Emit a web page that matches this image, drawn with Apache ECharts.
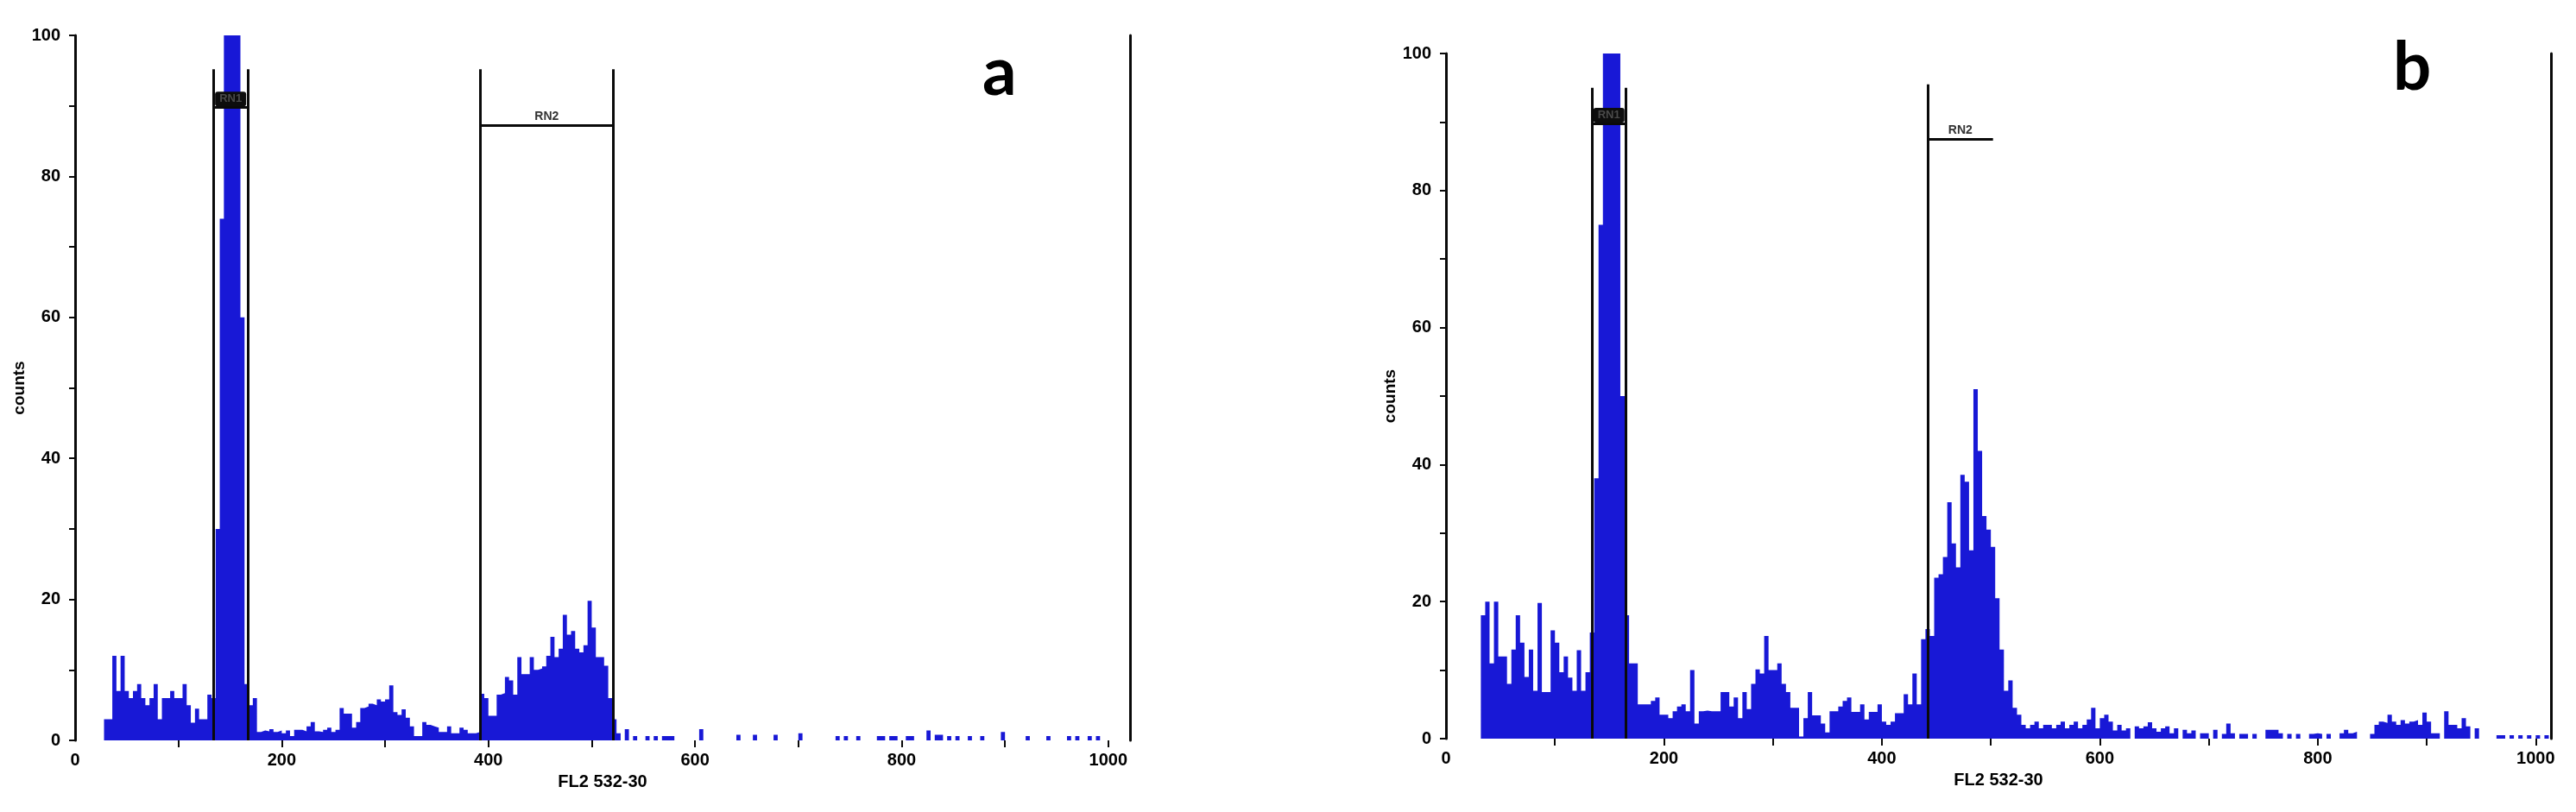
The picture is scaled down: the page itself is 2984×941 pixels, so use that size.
<!DOCTYPE html>
<html><head><meta charset="utf-8">
<script src="https://cdn.jsdelivr.net/npm/echarts@6/dist/echarts.min.js"></script>
<style>html,body{margin:0;padding:0;background:#fff}#c{width:2984px;height:941px}</style>
</head><body><div id="c"></div>
<script>
// ---- data ----
const firstChannel = 28;   // first histogram bin (FL2 channel)
const binWidth = 4;        // channels per bin
const countsA = [
  3, 3, 12, 7, 12, 7, 6, 7, 8, 6,
  5, 6, 8, 3, 6, 6, 7, 6, 6, 8,
  5, 2.5, 4.5, 3, 3, 6.5, 6, 30, 74, 100,
  100, 100, 100, 60, 8, 5, 6, 1.2, 1.4, 1.3,
  1.6, 1.2, 1.4, 1, 1.4, 0.6, 1.5, 1.5, 1.3, 2,
  2.6, 1.3, 1.2, 1.5, 1.8, 1.2, 1.5, 4.6, 3.8, 3.8,
  1.8, 2.6, 4.6, 4.8, 5.2, 5, 5.8, 5.5, 5.8, 7.8,
  4, 3.6, 4.4, 3.2, 2, 0.6, 0.6, 2.6, 2.2, 2,
  1.8, 1.2, 1.2, 2, 1, 1, 1.8, 1.5, 1, 1,
  1.2, 6.6, 6, 3.5, 3.5, 6.5, 6.7, 9, 8.5, 6.5,
  11.8, 9.4, 9.4, 11.8, 10, 10.2, 10.5, 12, 14.7, 11.8,
  13, 17.8, 15, 15.5, 13, 12.5, 13.5, 19.8, 16, 11.8,
  11.8, 10.6, 6, 3, 1, 0, 1.6, 0, 0.6, 0,
  0, 0.6, 0, 0.6, 0, 0.6, 0.6, 0.6, 0, 0,
  0, 0, 0, 0, 1.6, 0, 0, 0, 0, 0,
  0, 0, 0, 0.8, 0, 0, 0, 0.8, 0, 0,
  0, 0, 0.8, 0, 0, 0, 0, 0, 1, 0,
  0, 0, 0, 0, 0, 0, 0, 0.6, 0, 0.6,
  0, 0, 0.6, 0, 0, 0, 0, 0.6, 0.6, 0,
  0.6, 0.6, 0, 0, 0.6, 0.6, 0, 0, 0, 1.4,
  0, 0.8, 0.8, 0, 0.6, 0, 0.6, 0, 0, 0.6,
  0, 0, 0.6, 0, 0, 0, 0, 1.2, 0, 0,
  0, 0, 0, 0.6, 0, 0, 0, 0, 0.6, 0,
  0, 0, 0, 0.6, 0, 0.6, 0, 0, 0.6, 0,
  0.6, 0, 0, 0, 0, 0, 0, 0
];
const countsB = [
  0, 18, 20, 11, 20, 12, 12, 8, 13, 18,
  14, 9, 13, 7, 19.8, 6.8, 6.8, 15.8, 14, 9.7,
  12, 8.9, 7, 12.9, 7, 9.7, 15.5, 38, 75, 100,
  100, 100, 100, 50, 18, 11, 11, 5, 5, 5,
  5.5, 6, 3.5, 3.5, 3, 4, 4.7, 5, 4, 10,
  2.2, 4, 4.1, 4, 4, 4, 6.8, 6.8, 4.7, 6,
  3, 6.8, 4.3, 8, 10.1, 9.5, 15, 10, 10, 11,
  8, 6.8, 4.5, 4.5, 0.3, 3, 6.8, 3.4, 3.4, 2.2,
  0.9, 4, 4, 4.7, 5.5, 6, 3.9, 3.9, 5, 2.8,
  3.9, 3.9, 5, 2.5, 2, 2.5, 3.7, 3.7, 6.5, 5,
  9.5, 5, 14.5, 16, 15, 23.5, 24, 26.5, 34.5, 28.5,
  25, 38.5, 37.5, 27.5, 51, 42, 32.5, 30.5, 28, 20.5,
  13, 7, 8.5, 4.5, 3.5, 2, 1.5, 2, 2.5, 1.5,
  2, 2, 1.5, 2, 2.5, 1.5, 2, 2.5, 1.5, 2,
  2.8, 4.5, 1.5, 3, 3.5, 2.5, 1.2, 2, 1.2, 1.5,
  0, 1.8, 1.5, 1.8, 2.4, 1.5, 1, 1.5, 1.8, 0.8,
  1.5, 0, 1.3, 0.8, 1.2, 0, 0.8, 0.8, 0, 1.3,
  0, 0.7, 2.2, 0.8, 0, 0.7, 0.7, 0, 0.7, 0,
  0, 1.3, 1.3, 1.3, 0.8, 0, 0.7, 0, 0.7, 0,
  0, 0.7, 0.8, 0.7, 0, 0.7, 0, 0, 0.8, 1.3,
  0.8, 1, 0, 0, 0, 0.7, 2, 2.5, 2.3, 3.5,
  2.5, 2, 2.7, 2.2, 2.5, 2.7, 2, 3.8, 2.5, 0.8,
  0.8, 0, 4, 2, 2, 1.5, 3, 1.8, 0, 1.5,
  0, 0, 0, 0, 0.5, 0.5, 0, 0.5, 0, 0.5,
  0, 0.5, 0, 0.5, 0, 0.5, 0, 0
];
const xTickValues = [100, 200, 300, 400, 500, 600, 700, 800, 900, 1000];
const xLabelValues = [0, 200, 400, 600, 800, 1000];
const yLabelValues = [0, 20, 40, 60, 80, 100];
// marker gates: channel range, line top (counts), bar level (counts)
const gatesA = [
  { name: 'RN1', from: 134, to: 167, top: 95.2, bar: 89.8, rightLine: true },
  { name: 'RN2', from: 392, to: 521, top: 95.2, bar: 87.3, rightLine: true }
];
const gatesB = [
  { name: 'RN1', from: 134, to: 165, top: 95.0, bar: 89.8, rightLine: true },
  { name: 'RN2', from: 442, to: 502, top: 95.5, bar: 87.5, rightLine: false }
];
const panelLabels = ['a', 'b'];
const xName = 'FL2 532-30';
const yName = 'counts';

// ---- chart ----
const chart = echarts.init(document.getElementById('c'), null, { renderer: 'canvas' });
const FONT = 'Liberation Sans, Arial, sans-serif';
const BLUE = '#1818d6';
const INK = '#0a0a0a';

function histData(counts) {
  const d = counts.map((v, i) => [firstChannel + i * binWidth, v]);
  d.push([firstChannel + counts.length * binWidth, 0]);
  return d;
}
function gateLines(gates) {
  const out = [];
  gates.forEach(g => {
    out.push([{ coord: [g.from, 0] }, { coord: [g.from, g.top] }]);
    if (g.rightLine) out.push([{ coord: [g.to, 0] }, { coord: [g.to, g.top] }]);
    const isBlob = g.name === 'RN1';
    const lbl = isBlob
      ? { show: true, formatter: g.name, position: 'insideMiddleTop', distance: 1,
          fontSize: 13, fontWeight: 'bold', fontFamily: FONT, color: '#4a4a4a',
          backgroundColor: '#0d0d0d', padding: [2, 5], borderRadius: 3 }
      : { show: true, formatter: g.name, position: 'insideMiddleTop', distance: 3,
          fontSize: 14, fontWeight: 'bold', fontFamily: FONT, color: '#333' };
    out.push([{ coord: [g.from, g.bar], label: lbl }, { coord: [g.to, g.bar], label: lbl }]);
  });
  return out;
}

const grids = [
  { left: 87, top: 41, width: 1222, height: 817 },
  { left: 1675, top: 62, width: 1280, height: 794 }
];
const xMax = [1021, 1014];

const xAxes = grids.map((g, i) => ({
  type: 'value', gridIndex: i, min: 0, max: xMax[i],
  axisLine: { show: false },
  axisTick: { show: true, customValues: xTickValues, length: 8, lineStyle: { color: INK, width: 2 } },
  axisLabel: { customValues: xLabelValues, formatter: v => String(v), margin: 13, fontSize: 20, fontWeight: 'bold', fontFamily: FONT, color: '#000' },
  splitLine: { show: false },
  name: xName, nameLocation: 'middle', nameGap: 38,
  nameTextStyle: { fontSize: 20, fontWeight: 'bold', fontFamily: FONT, color: '#000' }
}));
const yAxes = [];
grids.forEach((g, i) => {
  yAxes.push({
    type: 'value', gridIndex: i, min: 0, max: 100, interval: 10, position: 'left',
    axisLine: { show: true, lineStyle: { color: INK, width: 3 } },
    axisTick: { show: true, length: 7, lineStyle: { color: INK, width: 2 } },
    axisLabel: { customValues: yLabelValues, formatter: v => String(v), margin: 17, fontSize: 20, fontWeight: 'bold', fontFamily: FONT, color: '#000' },
    splitLine: { show: false },
    name: yName, nameLocation: 'middle', nameRotate: 90, nameGap: 40,
    nameTextStyle: { fontSize: 19, fontWeight: 'bold', fontFamily: FONT, color: '#000' }
  });
  yAxes.push({
    type: 'value', gridIndex: i, min: 0, max: 100, position: 'right',
    axisLine: { show: true, lineStyle: { color: INK, width: 3 } },
    axisTick: { show: false }, axisLabel: { show: false }, splitLine: { show: false }
  });
});

const series = [countsA, countsB].map((counts, i) => ({
  type: 'line', xAxisIndex: i, yAxisIndex: i * 2, step: 'end',
  data: histData(counts), showSymbol: false, symbol: 'none', silent: true,
  lineStyle: { width: 0 }, areaStyle: { color: BLUE, opacity: 1 },
  animation: false,
  markLine: {
    silent: true, symbol: ['none', 'none'], animation: false,
    lineStyle: { color: INK, width: 3, type: 'solid' },
    label: { show: false },
    data: gateLines(i === 0 ? gatesA : gatesB)
  }
}));

chart.setOption({
  backgroundColor: '#fff',
  animation: false,
  grid: grids,
  xAxis: xAxes,
  yAxis: yAxes,
  series: series,
  graphic: [
    { type: 'text', left: 1138, top: 46, style: { text: panelLabels[0], font: 'bold 78px Lato, Liberation Sans, sans-serif', fill: '#000' } },
    { type: 'text', left: 2772, top: 40, style: { text: panelLabels[1], font: 'bold 78px Lato, Liberation Sans, sans-serif', fill: '#000' } }
  ]
});
</script>
</body></html>
